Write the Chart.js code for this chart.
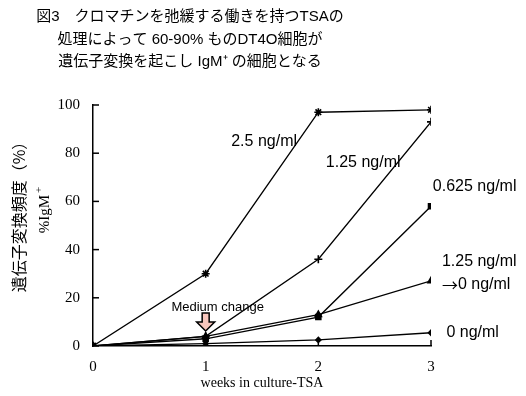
<!DOCTYPE html>
<html>
<head>
<meta charset="utf-8">
<script src="https://cdn.jsdelivr.net/npm/chart.js@4.4.0/dist/chart.umd.min.js"></script>
<style>
  html, body { margin: 0; padding: 0; background: #fff; }
  #wrap { width: 526px; height: 396px; }
</style>
</head>
<body>
<div id="wrap"><canvas id="chart" width="526" height="396"></canvas></div>
<script>
const weeks = [0, 1, 2, 3];
const yTicks = [0, 20, 40, 60, 80, 100];

const conc250 = [0, 30, 97, 98];
const conc125 = [0, 4, 36, 93];
const conc0625 = [0, 3, 12, 58];
const conc125to0 = [0, 4, 13, 27];
const conc0 = [0, 1, 2.5, 5.5];

const titleLines = [
  "図3　クロマチンを弛緩する働きを持つTSAの",
  "処理によって 60-90% ものDT4O細胞が",
  "遺伝子変換を起こし IgM⁺ の細胞となる"
];

// labels placed next to the lines, in data units
const seriesLabels = [
  { text: "2.5 ng/ml", x: 1.2, y: 85 },
  { text: "1.25 ng/ml", x: 2.04, y: 76 },
  { text: "0.625 ng/ml", x: 2.99, y: 66 },
  { text: "1.25 ng/ml", x: 3.07, y: 35 },
  { text: "→0 ng/ml", x: 3.07, y: 25.5 },
  { text: "0 ng/ml", x: 3.11, y: 5.5 }
];

const sans = "Arial, 'Liberation Sans', sans-serif";
const serif = "'Liberation Serif', 'Times New Roman', serif";
const cjk = "'Liberation Sans', 'Noto Sans CJK JP', sans-serif";
const cjkOnly = "'Noto Sans CJK JP', sans-serif";

function toPoints(vals) {
  return vals.map((v, i) => ({ x: weeks[i], y: v }));
}

function makeSet(label, vals, style, radius) {
  return {
    label,
    data: toPoints(vals),
    borderColor: "#000",
    backgroundColor: "#000",
    borderWidth: 1.3,
    pointStyle: style,
    pointRadius: radius,
    pointBorderWidth: 1.6,
    pointBorderColor: "#000",
    pointBackgroundColor: "#000",
    tension: 0
  };
}

const decor = {
  id: "decor",
  afterDraw(chart) {
    const ctx = chart.ctx;
    const xs = chart.scales.x;
    const ys = chart.scales.y;
    ctx.save();

    // title
    ctx.fillStyle = "#000";
    ctx.font = "15px " + cjk;
    ctx.textAlign = "center";
    ctx.textBaseline = "middle";
    titleLines.forEach((t, i) => ctx.fillText(t, 190, 17 + i * 22.5));

    // inward ticks
    ctx.strokeStyle = "#000";
    ctx.lineWidth = 1.5;
    yTicks.forEach(v => {
      const p = ys.getPixelForValue(v);
      ctx.beginPath();
      ctx.moveTo(xs.left, p);
      ctx.lineTo(xs.left + 6, p);
      ctx.stroke();
    });
    weeks.forEach(w => {
      if (w === 0) return;
      const p = xs.getPixelForValue(w);
      ctx.beginPath();
      ctx.moveTo(p, ys.bottom);
      ctx.lineTo(p, ys.bottom - 6);
      ctx.stroke();
    });

    // y axis titles
    ctx.save();
    ctx.translate(19, 213);
    ctx.rotate(-Math.PI / 2);
    ctx.font = "16px " + cjkOnly;
    ctx.fillText("遺伝子変換頻度（%）", 0, 0);
    ctx.restore();
    ctx.save();
    ctx.translate(45, 210);
    ctx.rotate(-Math.PI / 2);
    ctx.font = "15px " + serif;
    ctx.fillText("%IgM", -4, 0);
    ctx.font = "11px " + serif;
    ctx.fillText("+", 20, -6);
    ctx.restore();

    // series labels
    ctx.font = "16px " + sans;
    ctx.textAlign = "left";
    seriesLabels.forEach(l => {
      let px = xs.getPixelForValue(l.x) + 3;
      const py = ys.getPixelForValue(l.y);
      let txt = l.text;
      if (txt.startsWith("→")) {
        ctx.font = "16px " + cjkOnly;
        ctx.fillText("→", px, py);
        px += ctx.measureText("→").width;
        ctx.font = "16px " + sans;
        txt = txt.slice(1);
      }
      ctx.fillText(txt, px, py);
    });

    // medium change note and arrow
    ctx.font = "13px " + sans;
    ctx.textAlign = "center";
    const ax = xs.getPixelForValue(1);
    ctx.fillText("Medium change", ax + 12, 307);
    ctx.beginPath();
    ctx.moveTo(ax - 3.5, 313);
    ctx.lineTo(ax + 3.5, 313);
    ctx.lineTo(ax + 3.5, 322);
    ctx.lineTo(ax + 9, 322);
    ctx.lineTo(ax, 331);
    ctx.lineTo(ax - 9, 322);
    ctx.lineTo(ax - 3.5, 322);
    ctx.closePath();
    ctx.fillStyle = "#f8c6bd";
    ctx.fill();
    ctx.lineWidth = 1.5;
    ctx.strokeStyle = "#000";
    ctx.stroke();

    ctx.restore();
  }
};

new Chart(document.getElementById("chart"), {
  type: "line",
  data: {
    datasets: [
      makeSet("2.5 ng/ml", conc250, "star", 4),
      makeSet("1.25 ng/ml", conc125, "cross", 4),
      makeSet("0.625 ng/ml", conc0625, "rect", 3.5),
      makeSet("1.25 ng/ml →0 ng/ml", conc125to0, "triangle", 3.5),
      makeSet("0 ng/ml", conc0, "rectRot", 2.5)
    ]
  },
  options: {
    responsive: false,
    animation: false,
    layout: { padding: { top: 105, right: 95, left: 0, bottom: 0 } },
    plugins: {
      legend: { display: false },
      tooltip: { enabled: false }
    },
    scales: {
      x: {
        type: "linear",
        min: 0,
        max: 3,
        afterFit: s => { s.height = 50; },
        afterBuildTicks: s => { s.ticks = weeks.map(v => ({ value: v })); },
        grid: { display: true, drawOnChartArea: false, drawTicks: false },
        border: { display: true, color: "#000", width: 1.5 },
        ticks: { color: "#000", padding: 12, font: { family: serif, size: 15 } },
        title: {
          display: true,
          text: "weeks in culture-TSA",
          color: "#000",
          padding: { top: 2, bottom: 4 },
          font: { family: serif, size: 14 }
        }
      },
      y: {
        min: 0,
        max: 100,
        afterFit: s => { s.width = 93; },
        afterBuildTicks: s => { s.ticks = yTicks.map(v => ({ value: v })); },
        grid: { display: true, drawOnChartArea: false, drawTicks: false },
        border: { display: true, color: "#000", width: 1.5 },
        ticks: { color: "#000", padding: 13, font: { family: serif, size: 15 } }
      }
    }
  },
  plugins: [decor]
});
</script>
</body>
</html>
